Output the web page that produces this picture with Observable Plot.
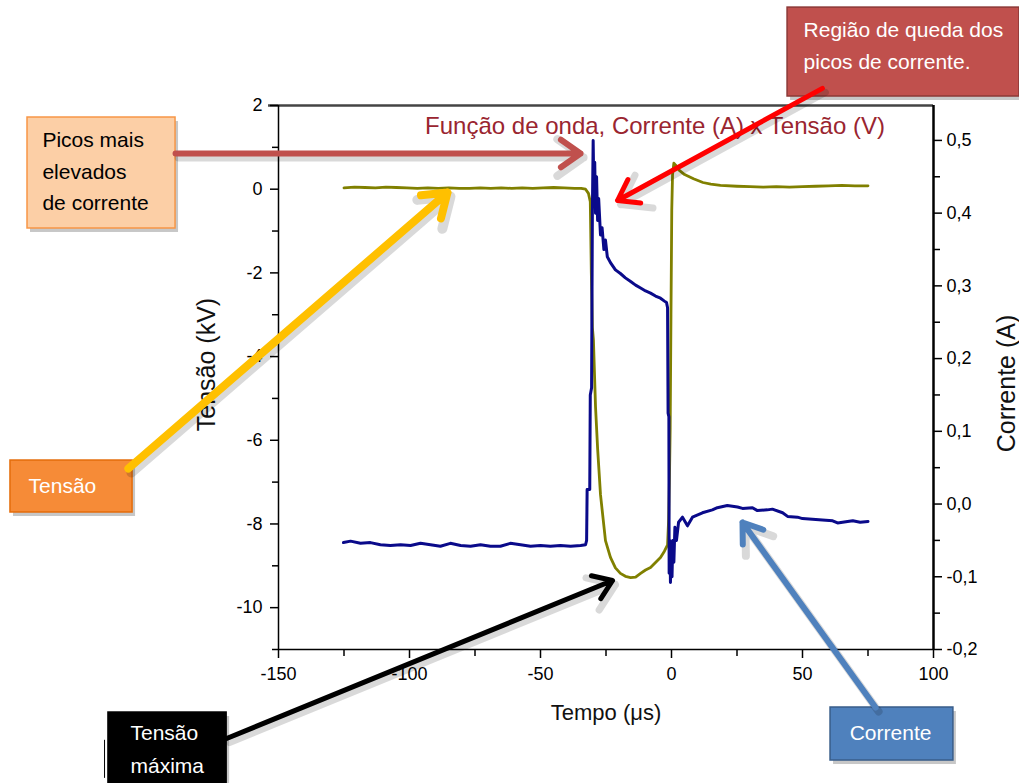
<!DOCTYPE html>
<html><head><meta charset="utf-8">
<script src="https://cdn.jsdelivr.net/npm/d3@7"></script>
<script src="https://cdn.jsdelivr.net/npm/@observablehq/plot@0.6"></script>
<style>body{margin:0;background:#fff}#chart svg{display:block}</style>
</head><body><div id="chart"></div>
<script>
// ---- data ----
const tempoV = [-125,-121,-117,-113,-109,-105,-101,-97,-93,-89,-85,-81,-77,-73,-69,-65,-61,-57,-53,-49,-45,-41,-37,-34.5,-32.8,-31.7,-31.0,-30.6,-30.2,-29.8,-29.0,-28.2,-27.1,-25.2,-23.3,-21.4,-19.5,-17.6,-15.6,-13.7,-11.8,-9.9,-8.0,-6.1,-4.2,-2.7,-1.5,-1.1,-0.8,-0.5,-0.2,0.1,0.4,0.9,1.5,3.0,5.0,8.4,12,15,18.7,25,30,35,40,45,50,55,60,65,70,75];
const tensaoKV = [0.03,0.05,0.04,0.03,0.05,0.04,0.03,0.02,0.03,0.02,0.03,0.02,0.02,0.03,0.02,0.03,0.02,0.03,0.02,0.03,0.04,0.03,0.02,0.02,0.0,-0.1,-0.3,-2.0,-3.3,-3.6,-5.2,-6.2,-7.3,-8.4,-8.8,-9.05,-9.18,-9.25,-9.28,-9.27,-9.18,-9.1,-9.04,-8.92,-8.8,-8.65,-8.5,-7.9,-7.0,-5.7,-3.0,-0.5,0.35,0.62,0.58,0.45,0.35,0.25,0.16,0.12,0.09,0.07,0.06,0.05,0.06,0.05,0.06,0.07,0.08,0.09,0.08,0.08];

const tempoI = [-125.2,-122.5,-118.7,-114.9,-111.1,-107.3,-103.4,-99.6,-95.8,-92.0,-88.2,-84.4,-80.5,-76.7,-72.9,-69.1,-65.3,-61.5,-57.6,-53.8,-50.0,-46.2,-42.4,-38.5,-34.7,-32.8,-32.4,-32.2,-31.2,-31.0,-30.5,-30.2,-29.9,-29.6,-29.3,-29.0,-28.6,-28.2,-27.8,-27.1,-26.5,-25.8,-25.2,-24.5,-23.3,-21.4,-19.5,-17.6,-15.6,-13.7,-11.8,-9.9,-8.0,-6.1,-4.2,-2.7,-1.9,-1.5,-1.3,-1.0,-0.9,-0.6,-0.4,-0.1,0.2,0.5,0.9,1.3,1.9,2.7,4.2,6.1,8.0,11.8,15.6,17.5,21.3,25.2,27.1,30.9,32.8,36.6,38.5,42.4,44.3,48.1,50.0,53.8,57.6,61.5,63.4,67.2,69.2,72.0,75.0];
const correnteA = [-0.053,-0.051,-0.054,-0.053,-0.056,-0.057,-0.056,-0.057,-0.054,-0.056,-0.058,-0.054,-0.057,-0.058,-0.056,-0.058,-0.058,-0.054,-0.056,-0.058,-0.057,-0.058,-0.057,-0.058,-0.057,-0.056,-0.05,0.02,0.02,0.15,0.16,0.40,0.50,0.42,0.47,0.40,0.45,0.39,0.42,0.37,0.38,0.35,0.363,0.34,0.332,0.322,0.317,0.311,0.306,0.301,0.297,0.293,0.29,0.286,0.283,0.279,0.277,0.27,0.125,0.12,-0.095,-0.05,-0.108,-0.06,-0.10,-0.05,-0.08,-0.032,-0.05,-0.025,-0.018,-0.03,-0.018,-0.012,-0.008,-0.005,-0.002,-0.004,-0.006,-0.005,-0.009,-0.008,-0.007,-0.012,-0.017,-0.018,-0.020,-0.021,-0.022,-0.023,-0.026,-0.024,-0.023,-0.025,-0.024];

const xTicks = [-150,-100,-50,0,50,100];
const xMinor = [-125,-75,-25,25,75];
const kvTicks = [2,0,-2,-4,-6,-8,-10];
const kvMinor = [1,-1,-3,-5,-7,-9,-11];
const aTicks = [0.5,0.4,0.3,0.2,0.1,0.0,-0.1,-0.2];
const aMinor = [0.45,0.35,0.25,0.15,0.05,-0.05,-0.15];
const kvDomain = [-11, 2];
const aDomain = [-0.2, 0.548];
const xDomain = [-150, 100];

const titulo = "Função de onda, Corrente (A) x Tensão (V)";
const xLabel = "Tempo (μs)";
const yLabel = "Tensão (kV)";
const y2Label = "Corrente (A)";

// annotations, positioned in data units (µs, kV)
const boxes = [
  {x1: 44.3, x2: 132.8, y1: 4.34, y2: 2.215, fill: "#C0504D", stroke: "#8C3836"},
  {x1: -245.8, x2: -189.3, y1: 1.713, y2: -0.939, fill: "#FCCFA6", stroke: "#F79646"},
  {x1: -252.3, x2: -205.7, y1: -6.484, y2: -7.726, fill: "#F68B37", stroke: "#E46C0A"},
  {x1: -214.9, x2: -169.8, y1: -12.506, y2: -14.3, fill: "#000000", stroke: "#000000"},
  {x1: 60.7, x2: 107.6, y1: -12.386, y2: -13.653, fill: "#4F81BD", stroke: "#385D8A"}
];
const notes = [
  {text: "Região de queda dos", x: 50.4, y: 3.79, fill: "white", anchor: "start"},
  {text: "picos de corrente.", x: 50.4, y: 3.03, fill: "white", anchor: "start"},
  {text: "Picos mais", x: -240.1, y: 1.164, fill: "black", anchor: "start"},
  {text: "elevados", x: -240.1, y: 0.399, fill: "black", anchor: "start"},
  {text: "de corrente", x: -240.1, y: -0.342, fill: "black", anchor: "start"},
  {text: "Tensão", x: -245.4, y: -7.105, fill: "white", anchor: "start"},
  {text: "Tensão", x: -206.5, y: -13.01, fill: "white", anchor: "start"},
  {text: "máxima", x: -206.5, y: -13.80, fill: "white", anchor: "start"},
  {text: "Corrente", x: 83.6, y: -13.01, fill: "white", anchor: "middle"}
];
const arrows = [
  {x1: 57.6, y1: 2.41, x2: -20.6, y2: -0.27, stroke: "#FF0000", sw: 5, head: 7},
  {x1: -189.3, y1: 0.853, x2: -34.7, y2: 0.853, stroke: "#C0504D", sw: 6, head: 6},
  {x1: -207.3, y1: -6.675, x2: -85.5, y2: -0.079, stroke: "#FFC000", sw: 8, head: 5},
  {x1: -169.8, y1: -13.127, x2: -22.5, y2: -9.351, stroke: "#000000", sw: 5, head: 6.5},
  {x1: 77.9, y1: -12.386, x2: 27.1, y2: -7.965, stroke: "#4F81BD", sw: 6, head: 5.5}
];
const cursor = [{x: -216.4, y1: -13.17, y2: -14.08}];

// ---- chart ----
const a2k = d3.scaleLinear().domain(aDomain).range(kvDomain);
const fmtA = a => Math.abs(a) < 1e-9 ? "0,0" : a.toFixed(1).replace(".", ",");
const tensao = tempoV.map((t, i) => ({t, v: tensaoKV[i]}));
const corrente = tempoI.map((t, i) => ({t, a: correnteA[i]}));

const SANS = "'Liberation Sans',Arial,sans-serif";

const marks = [];
// frame
marks.push(Plot.ruleY([2], {x1: -153.8, x2: 100, stroke: "#444", strokeWidth: 2.5}));
marks.push(Plot.ruleX([-150], {stroke: "#000", strokeWidth: 1.5}));
marks.push(Plot.ruleX([100], {stroke: "#000", strokeWidth: 2.5}));
marks.push(Plot.ruleY([-11], {stroke: "#000", strokeWidth: 1.5}));
// axes
marks.push(Plot.axisX(xTicks, {anchor: "bottom", tickSize: 9, tickPadding: 9, fontSize: 18, fontFamily: SANS, tickFormat: d => String(d), label: null, strokeWidth: 1.5}));
marks.push(Plot.axisX(xMinor, {anchor: "bottom", tickSize: 7, tickFormat: () => "", label: null, strokeWidth: 1.5}));
marks.push(Plot.axisY(kvTicks, {anchor: "left", tickSize: 8, tickPadding: 8, fontSize: 18, fontFamily: SANS, tickFormat: d => String(d), label: null, strokeWidth: 1.5}));
marks.push(Plot.axisY(kvMinor, {anchor: "left", tickSize: 6, tickFormat: () => "", label: null, strokeWidth: 1.5}));
marks.push(Plot.axisY(aTicks.map(a2k), {anchor: "right", tickSize: 8, tickPadding: 5, fontSize: 18, fontFamily: SANS, tickFormat: d => fmtA(a2k.invert(d)), label: null, strokeWidth: 1.5}));
marks.push(Plot.axisY(aMinor.map(a2k), {anchor: "right", tickSize: 6, tickFormat: () => "", label: null, strokeWidth: 1.5}));
// axis titles
marks.push(Plot.text([xLabel], {frameAnchor: "bottom", dy: 70, fontSize: 22, fontFamily: SANS, fill: "#111"}));
marks.push(Plot.text([yLabel], {frameAnchor: "left", textAnchor: "middle", dx: -72, dy: -13, rotate: -90, fontSize: 25, fontFamily: SANS, fill: "#111"}));
marks.push(Plot.text([y2Label], {frameAnchor: "right", textAnchor: "middle", dx: 73, dy: 6, rotate: -90, fontSize: 25, fontFamily: SANS, fill: "#111"}));
marks.push(Plot.text([titulo], {frameAnchor: "top", dx: 49, dy: 11, fontSize: 24, fontFamily: SANS, fill: "#9A2530"}));
// series
marks.push(Plot.line(tensao, {x: "t", y: "v", stroke: "#808000", strokeWidth: 2.8}));
marks.push(Plot.line(corrente, {x: "t", y: d => a2k(d.a), stroke: "#0A0A8A", strokeWidth: 3}));
// annotations
marks.push(Plot.rect(boxes, {x1: "x1", x2: "x2", y1: "y1", y2: "y2", fill: "#000", fillOpacity: 0.22, dx: 3, dy: 4}));
marks.push(Plot.rect(boxes, {x1: "x1", x2: "x2", y1: "y1", y2: "y2", fill: "fill", stroke: "stroke", strokeWidth: 1.5}));
for (const a of arrows) {
  marks.push(Plot.arrow([a], {x1: "x1", y1: "y1", x2: "x2", y2: "y2", stroke: "#000", strokeOpacity: 0.15, strokeWidth: a.sw + 2, headLength: a.head, headAngle: 70, dx: 3, dy: 4}));
  marks.push(Plot.arrow([a], {x1: "x1", y1: "y1", x2: "x2", y2: "y2", stroke: a.stroke, strokeWidth: a.sw, headLength: a.head, headAngle: 70}));
}
marks.push(Plot.ruleX(cursor, {x: "x", y1: "y1", y2: "y2", stroke: "#000", strokeWidth: 1}));
for (const anchor of ["start", "middle"]) {
  marks.push(Plot.text(notes.filter(n => n.anchor === anchor), {x: "x", y: "y", text: "text", fill: "fill", textAnchor: anchor, fontSize: 21, fontFamily: SANS}));
}

const chart = Plot.plot({
  width: 1019, height: 783,
  marginLeft: 278, marginRight: 86, marginTop: 105, marginBottom: 134,
  x: {domain: xDomain, axis: null},
  y: {domain: kvDomain, axis: null},
  style: {background: "white", overflow: "visible", fontFamily: SANS},
  marks
});
document.getElementById("chart").appendChild(chart);
</script>
</body></html>
